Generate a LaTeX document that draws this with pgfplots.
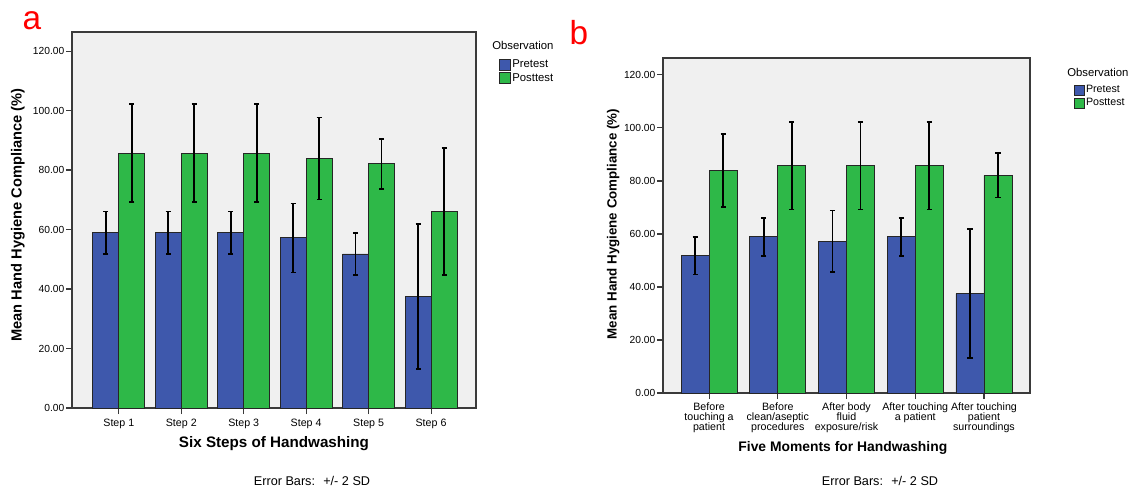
\documentclass[border=0pt]{standalone}
\usepackage{fontspec}
\setmainfont{Liberation Sans}
\usepackage{pgfplots}
\pgfplotsset{compat=1.18}
\definecolor{spssblue}{HTML}{3E58AC}
\definecolor{spssgreen}{HTML}{2EB848}
\definecolor{plotbg}{HTML}{F0F0F0}
\definecolor{axgray}{HTML}{3A3A3A}

\pgfplotsset{
  sqlegend/.style={legend image code/.code={\draw[##1,draw=black!85,line width=0.6pt] (0pt,-#1) rectangle (2*#1,#1);}},
  spss/.style={
    scale only axis,
    anchor=south west,
    ybar=0pt,
    ymin=0, ymax=126.4,
    ytick={0,20,40,60,80,100,120},
    yticklabels={0.00,20.00,40.00,60.00,80.00,100.00,120.00},
    xtick=data,
    tick align=outside,
    xtick pos=left, ytick pos=left,
    major tick length=4.5pt,
    tick style={axgray,line width=0.8pt},
    axis line style={axgray,line width=0.9pt},
    axis background/.style={fill=plotbg},
    yticklabel style={font=\fontsize{7.7}{9}\selectfont, inner sep=1pt},
    every axis plot/.append style={draw=black!85, line width=0.6pt,
      error bars/y dir=both, error bars/y explicit,
      error bars/error bar style={black,line width=1.2pt},
      error bars/error mark options={black,rotate=90,mark size=1.9pt,line width=1.2pt}},
    legend style={draw=none, fill=none, inner sep=0pt, row sep=1.6pt,
      nodes={inner xsep=1pt, inner ysep=0.6pt}},
    legend cell align=left,
  }
}

\begin{document}
\begin{tikzpicture}
\useasboundingbox (0,0) rectangle (850.5pt,366.75pt);

% ---------------- chart a ----------------
\begin{axis}[spss,
  at={(54pt,60.75pt)}, width=303pt, height=282pt,
  xmin=0.25, xmax=6.72,
  bar width=19.5pt,
  xticklabels={Step 1,Step 2,Step 3,Step 4,Step 5,Step 6},
  xticklabel style={font=\fontsize{8}{9}\selectfont, inner sep=1.5pt, yshift=-2pt},
  xlabel={\bfseries Six Steps of Handwashing},
  xlabel style={font=\fontsize{11.4}{13}\selectfont, at={(axis description cs:0.5,-0.095)}, anchor=center},
  ylabel={\bfseries Mean Hand Hygiene Compliance (\%)},
  ylabel style={font=\fontsize{11}{13}\selectfont, at={(axis description cs:-0.134,0.513)}, anchor=center, rotate=0},
  legend style={at={(axis description cs:1.057,0.93)}, anchor=north west, font=\fontsize{8.5}{10}\selectfont},
  every axis plot post/.append style={sqlegend=4.1pt},
]
\addplot[fill=spssblue] coordinates {
  (1,58.9) +- (0,7.1)
  (2,58.9) +- (0,7.1)
  (3,58.9) +- (0,7.1)
  (4,57.2) +- (0,11.6)
  (5,51.8) +- (0,7.1)
  (6,37.5) +- (0,24.4)
};
\addplot[fill=spssgreen] coordinates {
  (1,85.7) +- (0,16.5)
  (2,85.7) +- (0,16.5)
  (3,85.7) +- (0,16.5)
  (4,83.9) +- (0,13.8)
  (5,82.1) +- (0,8.4)
  (6,66.1) +- (0,21.4)
};
\legend{Pretest,Posttest}
\end{axis}

% ---------------- chart b ----------------
\begin{axis}[spss,
  at={(497.25pt,72pt)}, width=275.25pt, height=251.25pt,
  xmin=0.33, xmax=5.67,
  bar width=21pt,
  xticklabels={{Before\\touching a\\patient},{Before\\clean/aseptic\\procedures},{After body\\fluid\\exposure/risk},{After touching\\a patient},{After touching\\patient\\surroundings}},
  xticklabel style={font=\fontsize{8}{7.6}\selectfont, align=center, inner sep=1.5pt, yshift=-1.3pt},
  xlabel={\bfseries Five Moments for Handwashing},
  xlabel style={font=\fontsize{10.4}{12}\selectfont, at={(axis description cs:0.49,-0.163)}, anchor=center},
  ylabel={\bfseries Mean Hand Hygiene Compliance (\%)},
  ylabel style={font=\fontsize{10}{12}\selectfont, at={(axis description cs:-0.136,0.504)}, anchor=center, rotate=0},
  legend style={at={(axis description cs:1.12,0.921)}, anchor=north west, font=\fontsize{8}{9.5}\selectfont},
  every axis plot post/.append style={sqlegend=3.6pt},
]
\addplot[fill=spssblue] coordinates {
  (1,51.8) +- (0,7.1)
  (2,58.9) +- (0,7.1)
  (3,57.2) +- (0,11.6)
  (4,58.9) +- (0,7.1)
  (5,37.5) +- (0,24.4)
};
\addplot[fill=spssgreen] coordinates {
  (1,83.9) +- (0,13.8)
  (2,85.7) +- (0,16.5)
  (3,85.7) +- (0,16.5)
  (4,85.7) +- (0,16.5)
  (5,82.1) +- (0,8.4)
};
\legend{Pretest,Posttest}
\end{axis}

% ---------------- annotations ----------------
\node[red, font=\fontsize{25}{28}\selectfont, inner sep=0pt] at (24pt,351pt) {a};
\node[red, font=\fontsize{25}{28}\selectfont, inner sep=0pt] at (434.25pt,342pt) {b};
\node[anchor=west, inner sep=0pt, font=\fontsize{8.5}{10}\selectfont] at (369pt,333pt) {Observation};
\node[anchor=west, inner sep=0pt, font=\fontsize{8.5}{10}\selectfont] at (800.25pt,312.75pt) {Observation};
\node[inner sep=0pt, font=\fontsize{9.5}{11}\selectfont] at (234pt,6pt) {Error Bars: \ +/- 2 SD};
\node[inner sep=0pt, font=\fontsize{9.5}{11}\selectfont] at (660pt,6pt) {Error Bars: \ +/- 2 SD};
\end{tikzpicture}
\end{document}
